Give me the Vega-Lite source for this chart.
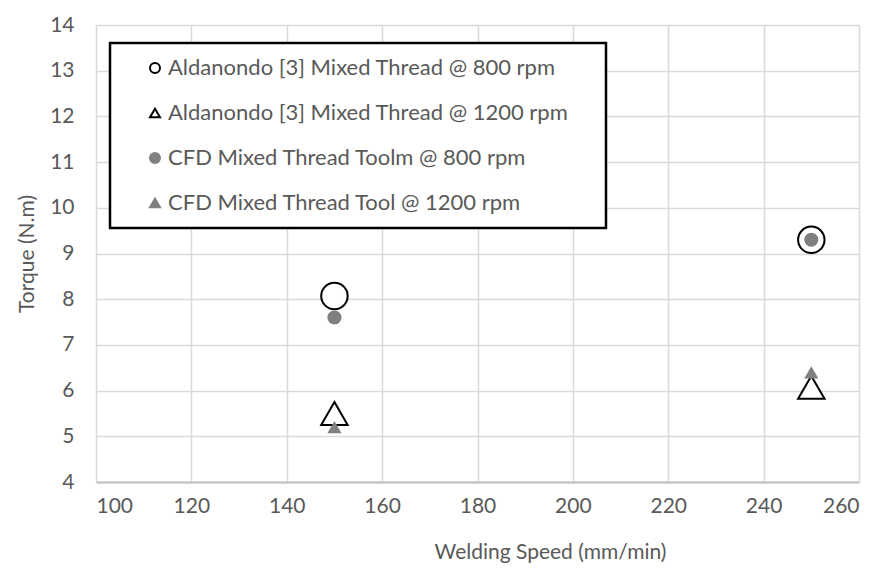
{
  "$schema": "https://vega.github.io/schema/vega-lite/v6.json",
  "width": 763,
  "height": 457,
  "autosize": {"type": "none"},
  "padding": {"left": 96, "top": 25, "right": 35, "bottom": 95},
  "background": "white",
  "config": {
    "font": "Lato",
    "view": {"stroke": null},
    "legend": {"strokeWidth": 2.5},
    "axis": {
      "labelFont": "Lato",
      "titleFont": "Lato",
      "labelColor": "#595959",
      "titleColor": "#595959",
      "labelFontSize": 21,
      "titleFontSize": 21,
      "titleFontWeight": "normal",
      "gridColor": "#d9d9d9",
      "gridWidth": 1.5,
      "ticks": false
    }
  },
  "data": {
    "values": [
      {"series": "Aldanondo [3] Mixed Thread @ 800 rpm", "group": "exp", "speed": 150, "torque": 8.07},
      {"series": "Aldanondo [3] Mixed Thread @ 800 rpm", "group": "exp", "speed": 250, "torque": 9.3},
      {"series": "Aldanondo [3] Mixed Thread @ 1200 rpm", "group": "exp", "speed": 150, "torque": 5.5},
      {"series": "Aldanondo [3] Mixed Thread @ 1200 rpm", "group": "exp", "speed": 250, "torque": 6.07},
      {"series": "CFD Mixed Thread Toolm @ 800 rpm", "group": "cfd", "speed": 150, "torque": 7.6},
      {"series": "CFD Mixed Thread Toolm @ 800 rpm", "group": "cfd", "speed": 250, "torque": 9.3},
      {"series": "CFD Mixed Thread Tool @ 1200 rpm", "group": "cfd", "speed": 150, "torque": 5.2},
      {"series": "CFD Mixed Thread Tool @ 1200 rpm", "group": "cfd", "speed": 250, "torque": 6.4}
    ]
  },
  "encoding": {
    "x": {
      "field": "speed",
      "type": "quantitative",
      "scale": {"domain": [100, 260], "nice": false, "zero": false},
      "axis": {
        "values": [100, 120, 140, 160, 180, 200, 220, 240, 260],
        "title": "Welding Speed (mm/min)",
        "domainColor": "#bfbfbf",
        "domainWidth": 2,
        "labelPadding": 13,
        "titleX": 454,
        "titleY": 70,
        "titleBaseline": "middle",
        "titleAnchor": "middle",
        "titleAlign": "center"
      }
    },
    "y": {
      "field": "torque",
      "type": "quantitative",
      "scale": {"domain": [4, 14], "nice": false, "zero": false},
      "axis": {
        "values": [4, 5, 6, 7, 8, 9, 10, 11, 12, 13, 14],
        "title": "Torque (N.m)",
        "domain": false,
        "labelPadding": 22,
        "titlePadding": 12
      }
    },
    "shape": {
      "field": "series",
      "type": "nominal",
      "sort": null,
      "scale": {
        "domain": ["Aldanondo [3] Mixed Thread @ 800 rpm", "Aldanondo [3] Mixed Thread @ 1200 rpm", "CFD Mixed Thread Toolm @ 800 rpm", "CFD Mixed Thread Tool @ 1200 rpm"],
        "range": ["circle", "triangle-up", "circle", "triangle-up"]
      },
      "legend": {
        "title": "\u00a0\u00a0\u00a0",
        "titleOrient": "right",
        "titleFontSize": 21,
        "titlePadding": 24,
        "orient": "none",
        "legendX": 14,
        "legendY": 18,
        "labelFont": "Lato",
        "labelFontSize": 22,
        "labelColor": "#595959",
        "symbolSize": 100,
        "symbolStrokeWidth": 2,
        "rowPadding": 23,
        "padding": 14,
        "symbolOffset": 20,
        "labelOffset": 2,
        "labelLimit": 600,
        "strokeColor": "black",
        "fillColor": "white"
      }
    },
    "fill": {
      "field": "series",
      "type": "nominal",
      "sort": null,
      "scale": {
        "domain": ["Aldanondo [3] Mixed Thread @ 800 rpm", "Aldanondo [3] Mixed Thread @ 1200 rpm", "CFD Mixed Thread Toolm @ 800 rpm", "CFD Mixed Thread Tool @ 1200 rpm"],
        "range": ["white", "white", "#808080", "#808080"]
      },
      "legend": {
        "title": "\u00a0\u00a0\u00a0",
        "orient": "none",
        "legendX": 14,
        "legendY": 18
      }
    },
    "stroke": {
      "field": "series",
      "type": "nominal",
      "sort": null,
      "scale": {
        "domain": ["Aldanondo [3] Mixed Thread @ 800 rpm", "Aldanondo [3] Mixed Thread @ 1200 rpm", "CFD Mixed Thread Toolm @ 800 rpm", "CFD Mixed Thread Tool @ 1200 rpm"],
        "range": ["black", "black", "#808080", "#808080"]
      },
      "legend": {
        "title": "\u00a0\u00a0\u00a0",
        "orient": "none",
        "legendX": 14,
        "legendY": 18
      }
    }
  },
  "layer": [
    {
      "transform": [{"filter": "datum.group === 'exp'"}],
      "mark": {"type": "point", "filled": true, "opacity": 1, "size": 700, "strokeWidth": 2}
    },
    {
      "transform": [{"filter": "datum.group === 'cfd'"}],
      "mark": {"type": "point", "filled": true, "opacity": 1, "size": 200, "strokeWidth": 0}
    }
  ]
}
